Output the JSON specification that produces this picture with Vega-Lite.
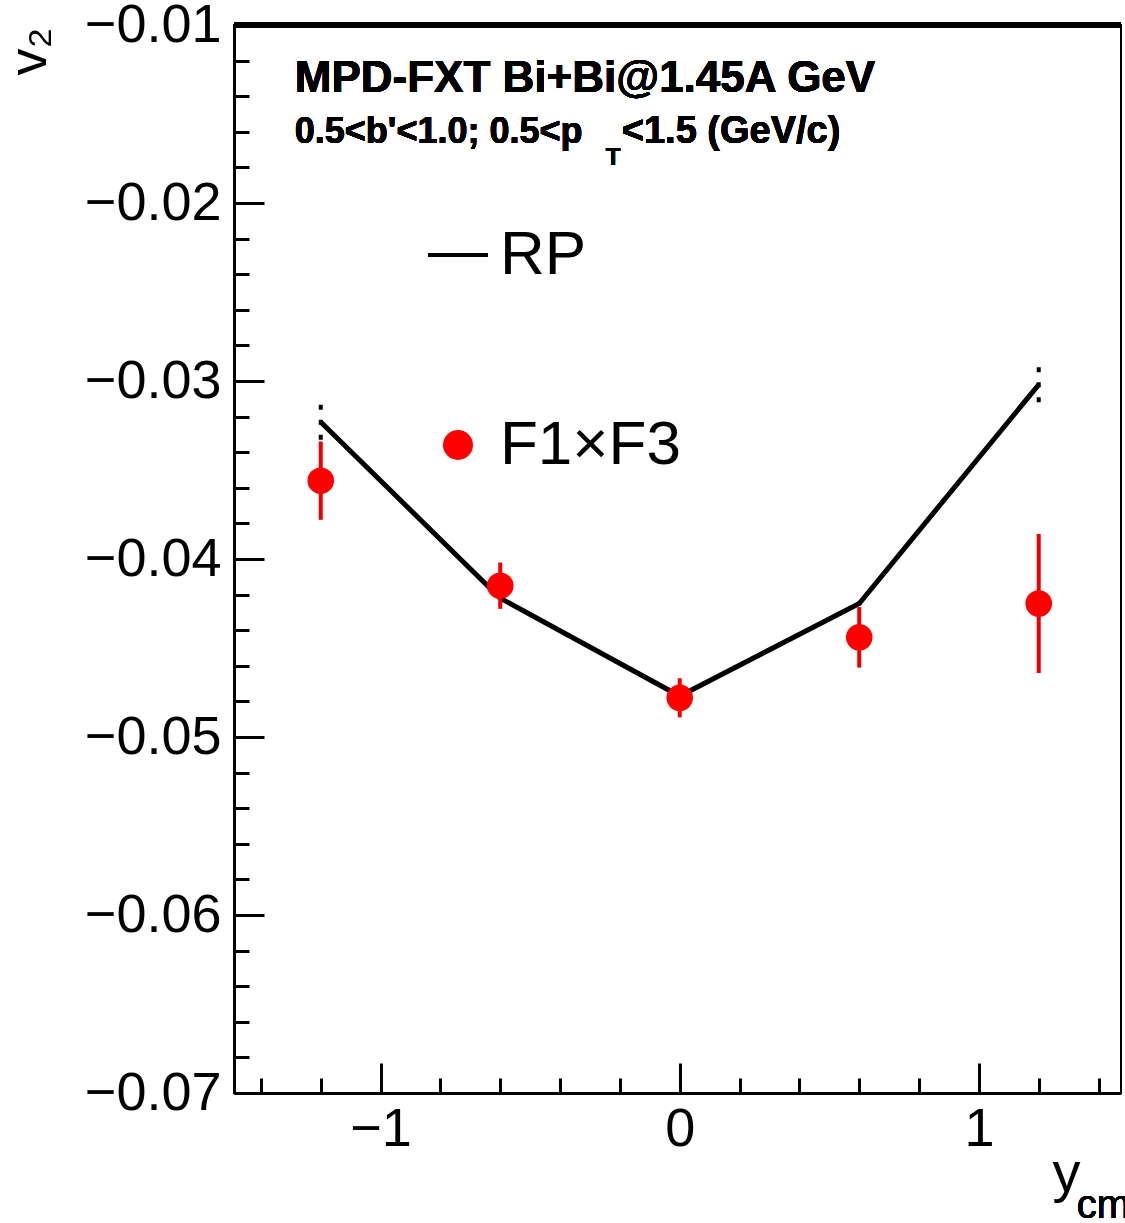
{
  "$schema": "https://vega.github.io/schema/vega-lite/v6.json",
  "width": 887,
  "height": 1068,
  "autosize": {"type": "none"},
  "padding": {"left": 234, "top": 25, "right": 4, "bottom": 130},
  "background": "white",
  "config": {
    "view": {"stroke": "black", "strokeWidth": 2},
    "font": "Liberation Sans",
    "axis": {
      "domainColor": "black",
      "domainWidth": 3,
      "tickColor": "black",
      "tickWidth": 3,
      "grid": false,
      "labelFont": "Liberation Sans",
      "labelFontSize": 54,
      "labelColor": "black",
      "labelFlush": false,
      "labelOverlap": false,
      "titleFont": "Liberation Sans",
      "titleColor": "black",
      "titleFontWeight": "normal"
    }
  },
  "data": {
    "values": [
      {"yc": -1.2, "v2": -0.0323, "err": 0.001, "series": "RP"},
      {"yc": -0.6, "v2": -0.0422, "err": 0.0001, "series": "RP"},
      {"yc": 0.0, "v2": -0.0477, "err": 0.0001, "series": "RP"},
      {"yc": 0.6, "v2": -0.0425, "err": 0.0001, "series": "RP"},
      {"yc": 1.2, "v2": -0.0302, "err": 0.001, "series": "RP"},
      {"yc": -1.2, "v2": -0.0356, "err": 0.0022, "series": "F1×F3"},
      {"yc": -0.6, "v2": -0.0415, "err": 0.0013, "series": "F1×F3"},
      {"yc": 0.0, "v2": -0.0478, "err": 0.0011, "series": "F1×F3"},
      {"yc": 0.6, "v2": -0.0444, "err": 0.0017, "series": "F1×F3"},
      {"yc": 1.2, "v2": -0.0425, "err": 0.0039, "series": "F1×F3"}
    ]
  },
  "encoding": {
    "x": {
      "field": "yc",
      "type": "quantitative",
      "scale": {"domain": [-1.49, 1.475], "nice": false, "zero": false},
      "axis": {
        "values": [-1.4, -1.2, -1, -0.8, -0.6, -0.4, -0.2, 0, 0.2, 0.4, 0.6, 0.8, 1, 1.2, 1.4],
        "format": ".0f",
        "labelExpr": "abs(datum.value % 1) < 1e-6 ? datum.label : ''",
        "tickSize": {"condition": {"test": "abs(datum.value % 1) < 1e-6", "value": -30}, "value": -15},
        "labelPadding": 39,
        "title": "y",
        "titleFontSize": 56,
        "titleX": 818,
        "titleY": 97,
        "titleAlign": "left",
        "titleBaseline": "alphabetic",
        "titleAnchor": null
      }
    },
    "y": {
      "field": "v2",
      "type": "quantitative",
      "scale": {"domain": [-0.07, -0.01], "nice": false, "zero": false},
      "axis": {
        "values": [-0.07, -0.068, -0.066, -0.064, -0.062, -0.06, -0.058, -0.056, -0.054, -0.052, -0.05, -0.048, -0.046, -0.044, -0.042, -0.04, -0.038, -0.036, -0.034, -0.032, -0.03, -0.028, -0.026, -0.024, -0.022, -0.02, -0.018, -0.016, -0.014, -0.012, -0.01],
        "format": ".2f",
        "labelExpr": "abs(datum.value * 100 - round(datum.value * 100)) < 1e-6 ? datum.label : ''",
        "tickSize": {"condition": {"test": "abs(datum.value * 100 - round(datum.value * 100)) < 1e-6", "value": -30}, "value": -15},
        "labelPadding": 43,
        "title": "v₂",
        "titleFontSize": 54,
        "titleAngle": -90,
        "titleX": -189,
        "titleY": 2,
        "titleAlign": "right",
        "titleBaseline": "alphabetic",
        "titleAnchor": null
      }
    }
  },
  "layer": [
    {
      "mark": {"type": "rule", "color": "black", "strokeWidth": 5},
      "encoding": {"x": null, "y": {"datum": -0.01}}
    },
    {
      "transform": [{"filter": "datum.series === 'RP'"}],
      "mark": {"type": "line", "color": "black", "strokeWidth": 5}
    },
    {
      "transform": [{"filter": "datum.series === 'RP'"}],
      "mark": {"type": "errorbar", "ticks": false, "rule": {"color": "black", "strokeWidth": 4, "strokeDash": [5, 10]}},
      "encoding": {"yError": {"field": "err"}}
    },
    {
      "transform": [{"filter": "datum.series === 'F1×F3'"}],
      "mark": {"type": "errorbar", "ticks": false, "rule": {"color": "#ee0000", "strokeWidth": 4}},
      "encoding": {"yError": {"field": "err"}}
    },
    {
      "transform": [{"filter": "datum.series === 'F1×F3'"}],
      "mark": {"type": "point", "filled": true, "opacity": 1, "size": 707},
      "encoding": {
        "color": {
          "field": "series",
          "type": "nominal",
          "scale": {"domain": ["RP", "F1×F3"], "range": ["black", "#ff0000"]},
          "legend": {
            "title": null,
            "orient": "none",
            "legendX": 193,
            "legendY": 199,
            "padding": 0,
            "symbolSize": 900,
            "symbolStrokeWidth": 0,
            "symbolOpacity": 1,
            "labelFont": "Liberation Sans",
            "labelFontSize": 62,
            "labelColor": "black",
            "labelOffset": 11,
            "rowPadding": 128,
            "labelLimit": 0
          }
        },
        "shape": {
          "field": "series",
          "type": "nominal",
          "scale": {"domain": ["RP", "F1×F3"], "range": ["M-2,-0.14H2V0.14H-2Z", "circle"]}
        }
      }
    },
    {
      "mark": {"type": "text", "text": "MPD-FXT Bi+Bi@1.45A GeV", "font": "Liberation Sans", "fontWeight": "bold", "fontSize": 44, "align": "left", "baseline": "alphabetic", "color": "black"},
      "encoding": {"x": {"datum": -1.2868}, "y": {"datum": -0.013781}}
    },
    {
      "mark": {"type": "text", "text": "0.5<b'<1.0; 0.5<p", "font": "Liberation Sans", "fontWeight": "bold", "fontSize": 36, "align": "left", "baseline": "alphabetic", "color": "black"},
      "encoding": {"x": {"datum": -1.2868}, "y": {"datum": -0.016646}}
    },
    {
      "mark": {"type": "text", "text": "T", "font": "Liberation Sans", "fontWeight": "bold", "fontSize": 24, "align": "left", "baseline": "alphabetic", "color": "black"},
      "encoding": {"x": {"datum": -0.2473}, "y": {"datum": -0.017882}}
    },
    {
      "mark": {"type": "text", "text": "<1.5 (GeV/c)", "font": "Liberation Sans", "fontWeight": "bold", "fontSize": 38, "align": "left", "baseline": "alphabetic", "color": "black"},
      "encoding": {"x": {"datum": -0.1938}, "y": {"datum": -0.016646}}
    },
    {
      "mark": {"type": "text", "text": "cm", "font": "Liberation Sans", "fontSize": 40, "align": "left", "baseline": "alphabetic", "color": "black"},
      "encoding": {"x": {"datum": 1.327}, "y": {"datum": -0.07704}}
    }
  ]
}
